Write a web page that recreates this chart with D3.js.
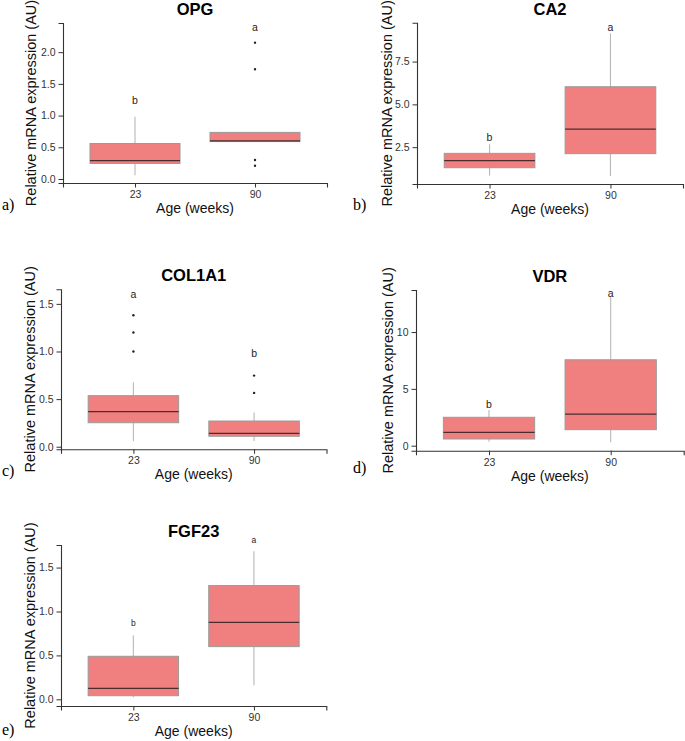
<!DOCTYPE html>
<html>
<head>
<meta charset="utf-8">
<script src="https://cdn.jsdelivr.net/npm/d3@7"></script>
<style>
  html, body { margin: 0; padding: 0; background: #fff; }
  svg { display: block; }
</style>
</head>
<body>
<svg id="chart" width="685" height="741"></svg>
<script>
// ---------------- DATA ----------------
const categories = ["23", "90"];
const genes = ["OPG", "CA2", "COL1A1", "VDR", "FGF23"];
const panelTags = ["a)", "b)", "c)", "d)", "e)"];
const yTitle = "Relative mRNA expression (AU)";
const xTitle = "Age (weeks)";

// box stats per category: [lower whisker, Q1, median, Q3, upper whisker]
const opgBoxes = [[0.06, 0.245, 0.29, 0.56, 0.98], [0.59, 0.59, 0.60, 0.735, 0.735]];
const opgOutliers = [[], [2.15, 1.73, 0.30, 0.21]];
const opgLetters = ["b", "a"];
const opgLetterY = [1.25, 2.40];
const opgTicks = [0, 0.5, 1.0, 1.5, 2.0];
const opgYLim = [-0.063, 2.46];

const ca2Boxes = [[0.84, 1.30, 1.71, 2.14, 2.67], [0.82, 2.12, 3.56, 6.03, 9.15]];
const ca2Outliers = [[], []];
const ca2Letters = ["b", "a"];
const ca2LetterY = [3.08, 9.5];
const ca2Ticks = [2.5, 5.0, 7.5];
const ca2YLim = [0.35, 9.77];

const col1a1Boxes = [[0.06, 0.252, 0.368, 0.536, 0.676], [0.06, 0.11, 0.14, 0.27, 0.36]];
const col1a1Outliers = [[1.0, 1.2, 1.38], [0.565, 0.747]];
const col1a1Letters = ["a", "b"];
const col1a1LetterY = [1.60, 0.98];
const col1a1Ticks = [0, 0.5, 1.0, 1.5];
const col1a1YLim = [-0.027, 1.653];

const vdrBoxes = [[0.35, 0.59, 1.18, 2.5, 3.15], [0.3, 1.41, 2.77, 7.56, 13.1]];
const vdrOutliers = [[], []];
const vdrLetters = ["b", "a"];
const vdrLetterY = [3.65, 13.4];
const vdrTicks = [0, 5, 10];
const vdrYLim = [-0.44, 13.7];

const fgf23Boxes = [[0.023, 0.041, 0.125, 0.49, 0.73], [0.16, 0.60, 0.875, 1.295, 1.685]];
const fgf23Outliers = [[], []];
const fgf23Letters = ["b", "a"];
const fgf23LetterY = [0.865, 1.81];
const fgf23Ticks = [0, 0.5, 1.0, 1.5];
const fgf23YLim = [-0.076, 1.757];

// ---------------- LAYOUT ----------------
const layouts = [
  { left: 63,  right: 327,   top: 23,    bottom: 183,   ylabX: 36,    tag: [2, 210],   fmt: ".1f", letterSize: 10.5 },
  { left: 417, right: 683,   top: 22.7,  bottom: 184,   ylabX: 391.5, tag: [353, 210], fmt: ".1f", letterSize: 10.5 },
  { left: 61,  right: 326.5, top: 289.3, bottom: 449.3, ylabX: 34.5,  tag: [2, 476],   fmt: ".1f", letterSize: 10.5 },
  { left: 416, right: 683.7, top: 290,   bottom: 450.7, ylabX: 393,   tag: [353, 473], fmt: "d",   letterSize: 10.5 },
  { left: 61,  right: 326.3, top: 545,   bottom: 706,   ylabX: 34.5,  tag: [2, 735],   fmt: ".1f", letterSize: 8.5 }
];

const panelData = [
  { boxes: opgBoxes, outliers: opgOutliers, letters: opgLetters, letterY: opgLetterY, ticks: opgTicks, ylim: opgYLim },
  { boxes: ca2Boxes, outliers: ca2Outliers, letters: ca2Letters, letterY: ca2LetterY, ticks: ca2Ticks, ylim: ca2YLim },
  { boxes: col1a1Boxes, outliers: col1a1Outliers, letters: col1a1Letters, letterY: col1a1LetterY, ticks: col1a1Ticks, ylim: col1a1YLim },
  { boxes: vdrBoxes, outliers: vdrOutliers, letters: vdrLetters, letterY: vdrLetterY, ticks: vdrTicks, ylim: vdrYLim },
  { boxes: fgf23Boxes, outliers: fgf23Outliers, letters: fgf23Letters, letterY: fgf23LetterY, ticks: fgf23Ticks, ylim: fgf23YLim }
];

const FONT = "'Liberation Sans', Arial, Helvetica, sans-serif";
const SERIF = "'Liberation Serif', 'Times New Roman', serif";
const FILL = "#F08080";
const BOX_STROKE = "#9a9a9a";
const WHISKER = "#b8b8b8";
const MEDIAN = "#4a2c2c";
const AXIS = "#333333";
const TICKTXT = "#333333";

const svg = d3.select("#chart");

genes.forEach((gene, i) => {
  const L = layouts[i];
  const D = panelData[i];
  const g = svg.append("g");

  const x = d3.scalePoint().domain(categories).range([L.left, L.right]).padding(0.6);
  const y = d3.scaleLinear().domain(D.ylim).range([L.bottom, L.top]);
  const bw = x.step() * 0.75;

  categories.forEach((c, ci) => {
    const [lo, q1, med, q3, hi] = D.boxes[ci];
    const cx = x(c);
    g.append("line").attr("x1", cx).attr("x2", cx).attr("y1", y(q3)).attr("y2", y(hi))
      .attr("stroke", WHISKER).attr("stroke-width", 1.1);
    g.append("line").attr("x1", cx).attr("x2", cx).attr("y1", y(q1)).attr("y2", y(lo))
      .attr("stroke", WHISKER).attr("stroke-width", 1.1);
    g.append("rect").attr("x", cx - bw / 2).attr("y", y(q3))
      .attr("width", bw).attr("height", y(q1) - y(q3))
      .attr("fill", FILL).attr("stroke", BOX_STROKE).attr("stroke-width", 1);
    g.append("line").attr("x1", cx - bw / 2).attr("x2", cx + bw / 2)
      .attr("y1", y(med)).attr("y2", y(med))
      .attr("stroke", MEDIAN).attr("stroke-width", 1.3);
    D.outliers[ci].forEach(v => {
      g.append("circle").attr("cx", cx).attr("cy", y(v)).attr("r", 1.2).attr("fill", "#222");
    });
    g.append("text").attr("x", cx).attr("y", y(D.letterY[ci]))
      .attr("text-anchor", "middle").attr("dominant-baseline", "central")
      .style("font-family", FONT).style("font-size", L.letterSize + "px")
      .attr("fill", "#222").text(D.letters[ci]);
  });

  const yAxis = d3.axisLeft(y).tickValues(D.ticks).tickFormat(d3.format(L.fmt))
    .tickSize(4.5).tickPadding(3);
  const ya = g.append("g").attr("transform", `translate(${L.left},0)`).call(yAxis);
  ya.select(".domain").attr("stroke", AXIS).attr("stroke-width", 1.1);
  ya.selectAll(".tick line").attr("stroke", AXIS).attr("stroke-width", 1);
  ya.selectAll(".tick text").style("font-family", FONT).style("font-size", "10.5px").attr("fill", TICKTXT);

  const xAxis = d3.axisBottom(x).tickSize(4.5).tickPadding(3);
  const xa = g.append("g").attr("transform", `translate(0,${L.bottom})`).call(xAxis);
  xa.select(".domain").attr("stroke", AXIS).attr("stroke-width", 1.1);
  xa.selectAll(".tick line").attr("stroke", AXIS).attr("stroke-width", 1);
  xa.selectAll(".tick text").style("font-family", FONT).style("font-size", "10.5px").attr("fill", TICKTXT);

  const cxMid = (L.left + L.right) / 2;
  g.append("text").attr("x", cxMid).attr("y", L.top - 8)
    .attr("text-anchor", "middle")
    .style("font-family", FONT).style("font-size", "16.5px").style("font-weight", "bold")
    .attr("fill", "#000").text(gene);
  g.append("text").attr("x", cxMid).attr("y", L.bottom + 30)
    .attr("text-anchor", "middle")
    .style("font-family", FONT).style("font-size", "14px")
    .attr("fill", "#111").text(xTitle);
  const cyMid = (L.top + L.bottom) / 2;
  g.append("text").attr("transform", `translate(${L.ylabX},${cyMid}) rotate(-90)`)
    .attr("text-anchor", "middle")
    .style("font-family", FONT).style("font-size", "14.5px")
    .attr("fill", "#111").text(yTitle);
  svg.append("text").attr("x", L.tag[0]).attr("y", L.tag[1])
    .style("font-family", SERIF).style("font-size", "16px")
    .attr("fill", "#000").text(panelTags[i]);
});
</script>
</body>
</html>
